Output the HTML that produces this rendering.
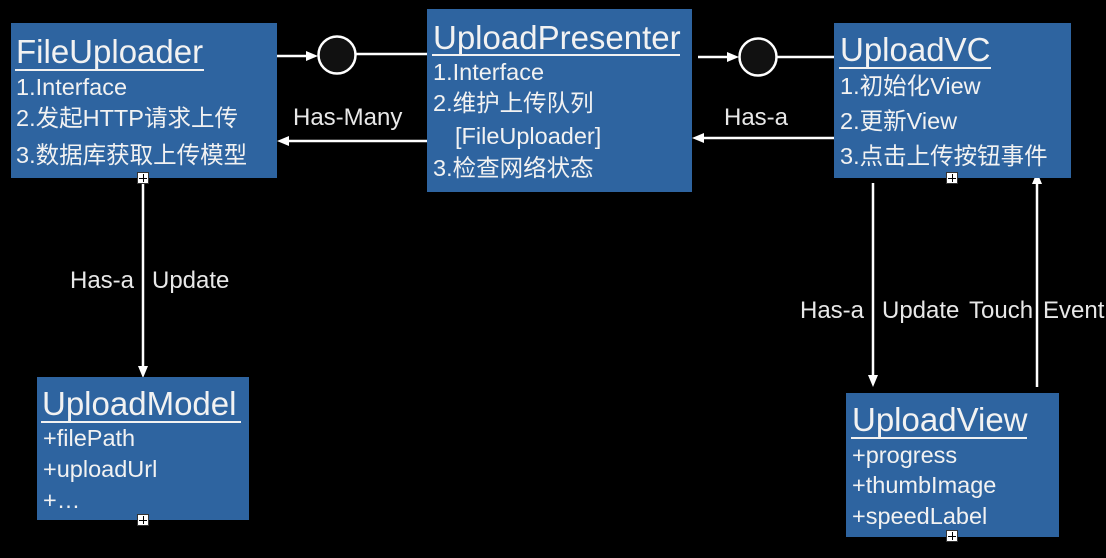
<!DOCTYPE html>
<html><head><meta charset="utf-8"><style>
html,body{margin:0;padding:0;background:#000;}
#c{position:relative;width:1106px;height:558px;overflow:hidden;background:#000;font-family:"Liberation Sans","Noto Sans CJK SC",sans-serif;color:#f2f2f2;}
.b{position:absolute;background:#2e64a0;}
.t{position:absolute;white-space:nowrap;line-height:1;}
.h{font-size:33px;}
.u{position:absolute;height:2px;background:#f2f2f2;}
.i{font-size:23.5px;}
.l{font-size:24px;color:#e8e8e8;}
.p{position:absolute;width:12px;height:12px;background:#fff;border:1px solid #333;box-sizing:border-box;}
.p:before{content:"";position:absolute;left:1px;top:5px;width:8px;height:1px;background:#000;}
.p:after{content:"";position:absolute;left:5px;top:1px;width:1px;height:8px;background:#000;}
</style></head><body><div id="c">
<svg width="1106" height="558" style="position:absolute;left:0;top:0">
<g stroke="#fff" stroke-width="2.5" fill="none">
<line x1="277" y1="56" x2="310" y2="56"/>
<line x1="356" y1="54" x2="427" y2="54"/>
<line x1="427" y1="141" x2="285" y2="141"/>
<line x1="698" y1="57" x2="730" y2="57"/>
<line x1="777" y1="57" x2="834" y2="57"/>
<line x1="834" y1="138" x2="702" y2="138"/>
<line x1="143" y1="183" x2="143" y2="368"/>
<line x1="873" y1="183" x2="873" y2="376"/>
<line x1="1037" y1="387" x2="1037" y2="182"/>
</g>
<g fill="#fff">
<polygon points="318,56 306,51 306,61"/>
<polygon points="277,141 289,136 289,146"/>
<polygon points="739,57 727,52 727,62"/>
<polygon points="692,138 704,133 704,143"/>
<polygon points="143,378 138,366 148,366"/>
<polygon points="873,387 868,375 878,375"/>
<polygon points="1037,172 1032,184 1042,184"/>
</g>
<circle cx="337" cy="55" r="18.5" fill="#111" stroke="#fff" stroke-width="2.5"/>
<circle cx="758" cy="57" r="18.5" fill="#111" stroke="#fff" stroke-width="2.5"/>
</svg>

<div class="b" style="left:11px;top:23px;width:266px;height:155px"></div>
<div class="t h" style="left:16px;top:35px">FileUploader</div>
<div class="u" style="left:15px;top:69px;width:189px"></div>
<div class="t i" style="left:16px;top:76px">1.Interface</div>
<div class="t i" style="left:16px;top:107px">2.发起HTTP请求上传</div>
<div class="t i" style="left:16px;top:144px">3.数据库获取上传模型</div>
<div class="p" style="left:137px;top:172px"></div>

<div class="b" style="left:427px;top:9px;width:265px;height:183px"></div>
<div class="t h" style="left:433px;top:21px">UploadPresenter</div>
<div class="u" style="left:432px;top:54px;width:248px"></div>
<div class="t i" style="left:433px;top:61px">1.Interface</div>
<div class="t i" style="left:433px;top:92px">2.维护上传队列</div>
<div class="t i" style="left:455px;top:125px">[FileUploader]</div>
<div class="t i" style="left:433px;top:157px">3.检查网络状态</div>

<div class="b" style="left:834px;top:23px;width:237px;height:155px"></div>
<div class="t h" style="left:840px;top:33px">UploadVC</div>
<div class="u" style="left:839px;top:67px;width:152px"></div>
<div class="t i" style="left:840px;top:75px">1.初始化View</div>
<div class="t i" style="left:840px;top:110px">2.更新View</div>
<div class="t i" style="left:840px;top:145px">3.点击上传按钮事件</div>
<div class="p" style="left:946px;top:172px"></div>

<div class="b" style="left:37px;top:377px;width:212px;height:143px"></div>
<div class="t h" style="left:42px;top:387px">UploadModel</div>
<div class="u" style="left:41px;top:421px;width:200px"></div>
<div class="t i" style="left:43px;top:427px">+filePath</div>
<div class="t i" style="left:43px;top:458px">+uploadUrl</div>
<div class="t i" style="left:43px;top:489px">+…</div>
<div class="p" style="left:137px;top:514px"></div>

<div class="b" style="left:846px;top:393px;width:213px;height:144px"></div>
<div class="t h" style="left:852px;top:403px">UploadView</div>
<div class="u" style="left:851px;top:437px;width:176px"></div>
<div class="t i" style="left:852px;top:444px">+progress</div>
<div class="t i" style="left:852px;top:474px">+thumbImage</div>
<div class="t i" style="left:852px;top:505px">+speedLabel</div>
<div class="p" style="left:946px;top:530px"></div>

<div class="t l" style="left:293px;top:106px">Has-Many</div>
<div class="t l" style="left:724px;top:106px">Has-a</div>
<div class="t l" style="left:70px;top:269px">Has-a</div>
<div class="t l" style="left:152px;top:269px">Update</div>
<div class="t l" style="left:800px;top:299px">Has-a</div>
<div class="t l" style="left:882px;top:299px">Update</div>
<div class="t l" style="left:969px;top:299px">Touch</div>
<div class="t l" style="left:1043px;top:299px">Event</div>
</div></body></html>
